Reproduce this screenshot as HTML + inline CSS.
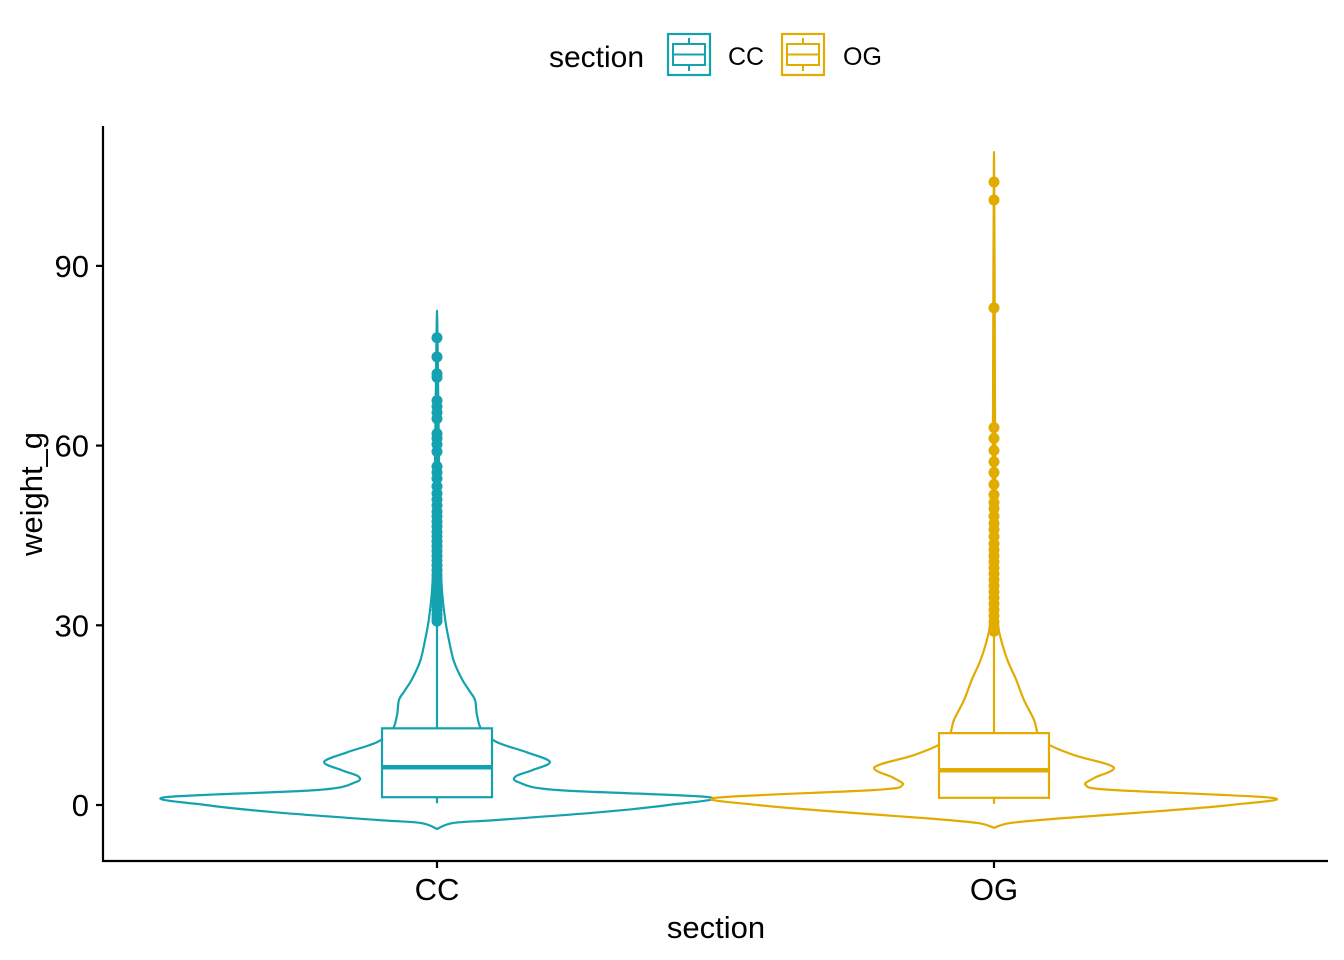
<!DOCTYPE html>
<html><head><meta charset="utf-8"><style>
body{margin:0;background:#fff;}
svg{display:block;font-family:"Liberation Sans",Arial,sans-serif;}
</style></head><body>
<svg id="chart" width="1344" height="960"></svg>
<script>
const categories=["CC","OG"];
const colors=["#14a2b0","#e2ab00"];
const yTicks=[0,30,60,90];
// violin profiles: value levels and relative density (1 = widest)
const ccVals=[-4,-3,-2.5,-1.2,0,1.3,2.5,3.8,4.8,5.8,7.2,8.8,10.5,12.5,15,17.5,19,21,24,27.5,31,36,44,59,70,78,82];
const ccDens=[0,0.06,0.22,0.6,0.85,1,0.44,0.3,0.29,0.35,0.415,0.33,0.22,0.165,0.147,0.14,0.12,0.092,0.062,0.044,0.03,0.018,0.011,0.007,0.004,0.002,0];
const ogVals=[-3.8,-3,-2.3,-1,0,1.2,2.5,3.3,4.5,6.3,8.3,10,11.7,14.2,17.5,21,24,27.5,31,41,60,75,90,100,108];
const ogDens=[0,0.06,0.22,0.6,0.85,1,0.43,0.33,0.36,0.43,0.29,0.2,0.16,0.144,0.108,0.079,0.05,0.026,0.013,0.007,0.004,0.003,0.002,0.001,0];
const boxQ1=[1.3,1.2], boxMed=[6.3,5.8], boxQ3=[12.8,12], whiskLo=[0.3,0.2], whiskHi=[30.5,28.5];
const ccOut=[78,74.8,72,71.4,67.5,66.5,65.5,64.5,62,61.2,60.2,59,56.5,55.5,54.5,53.2,52,51,50,49,48.2,47.3,46.5,45.6,44.8,44,43.2,42.4,41.6,40.8,40,39.2,38.4,37.6,36.8,36,35.3,34.6,33.9,33.2,32.5,31.8,31.2,30.7];
const ogOut=[104,101,83,63,61.2,59.2,57.3,55.5,53.5,51.8,50.5,49.5,48.2,47,46,44.8,43.6,42.6,41.6,40.6,39.6,38.6,37.6,36.6,35.6,34.6,33.6,32.6,31.6,30.6,29.8,29];
const profiles=[[ccVals,ccDens],[ogVals,ogDens]];
const outliers=[ccOut,ogOut];
const maxHalf=[272,278];

const NS="http://www.w3.org/2000/svg";
const svg=document.getElementById("chart");
const xPos=i=>437+i*557;
const yPos=v=>805-v*5.99;
function mk(tag,attrs,parent){const e=document.createElementNS(NS,tag);for(const k in attrs)e.setAttribute(k,attrs[k]);(parent||svg).appendChild(e);return e;}

// axes
let ax=mk("line",{x1:103,y1:126,x2:103,y2:862,stroke:"#000","stroke-width":2.2});


ax=mk("line",{x1:102,y1:861,x2:1328,y2:861,stroke:"#000","stroke-width":2.2});


yTicks.forEach(t=>{
  const tk=mk("line",{x1:96,x2:103,y1:yPos(t),y2:yPos(t),stroke:"#000","stroke-width":2.2});
  
  
  const tl=mk("text",{x:89,y:yPos(t)+11,"text-anchor":"end","font-size":31,fill:"#000"});
  tl.textContent=t;
  
  
});
categories.forEach((c,i)=>{
  const tk=mk("line",{x1:xPos(i),x2:xPos(i),y1:861,y2:868,stroke:"#000","stroke-width":2.2});
  
  
  const tl=mk("text",{x:xPos(i),y:900,"text-anchor":"middle","font-size":31,fill:"#000"});
  tl.textContent=c;
  
  
});
let t=mk("text",{x:716,y:938,"text-anchor":"middle","font-size":31,fill:"#000"});
t.textContent="section";


t=mk("text",{x:0,y:0,"text-anchor":"middle","font-size":31,fill:"#000",transform:"translate(42,494) rotate(-90)"});
t.textContent="weight_g";



// violins + boxes
categories.forEach((c,i)=>{
  const [vals,dens]=profiles[i];const cx=xPos(i),col=colors[i];
  let right=[],left=[];
  vals.forEach((v,k)=>{right.push([cx+dens[k]*maxHalf[i],yPos(v)]);left.push([cx-dens[k]*maxHalf[i],yPos(v)]);});
  const pts=right.concat(left.reverse());
  let d="M"+pts[0][0]+","+pts[0][1];
  for(let k=0;k<pts.length-1;k++){
    const p0=pts[Math.max(0,k-1)],p1=pts[k],p2=pts[k+1],p3=pts[Math.min(pts.length-1,k+2)];
    d+=" C"+(p1[0]+(p2[0]-p0[0])/6)+","+(p1[1]+(p2[1]-p0[1])/6)+" "+(p2[0]-(p3[0]-p1[0])/6)+","+(p2[1]-(p3[1]-p1[1])/6)+" "+p2[0]+","+p2[1];
  }
  d+="Z";
  const vp=mk("path",{d:d,fill:"none",stroke:col,"stroke-width":2.2});
  
  
  const topV=vals[vals.length-1];
  const wl=mk("line",{x1:cx,x2:cx,y1:yPos(topV),y2:yPos(whiskLo[i]),stroke:col,"stroke-width":2.2});
  
  
  const bx=mk("rect",{x:cx-55,width:110,y:yPos(boxQ3[i]),height:yPos(boxQ1[i])-yPos(boxQ3[i]),fill:"#fff",stroke:col,"stroke-width":2.2});
  
  
  const md=mk("line",{x1:cx-55,x2:cx+55,y1:yPos(boxMed[i]),y2:yPos(boxMed[i]),stroke:col,"stroke-width":4.5});
  
  
  outliers[i].forEach(v=>{
    const p=mk("circle",{cx:cx,cy:yPos(v),r:5.5,fill:col});
    
    
  });
});

// legend
const lg=mk("g",{});


t=mk("text",{x:549,y:67,"font-size":30,fill:"#000"},lg);
t.textContent="section";


[[668,"CC",728],[782,"OG",843]].forEach((L,i)=>{
  const g=mk("g",{},lg);
  
  
  const x=L[0],col=colors[i];
  mk("rect",{x:x,y:34,width:42,height:41,fill:"none",stroke:col,"stroke-width":2.2},g);
  mk("line",{x1:x+21,x2:x+21,y1:38,y2:71,stroke:col,"stroke-width":2},g);
  mk("rect",{x:x+5,y:44,width:32,height:21,fill:"#fff",stroke:col,"stroke-width":2},g);
  mk("line",{x1:x+5,x2:x+37,y1:54.5,y2:54.5,stroke:col,"stroke-width":2},g);
  const tx=mk("text",{x:L[2],y:65,"font-size":25,fill:"#000"},g);
  tx.textContent=L[1];
});
</script>
</body></html>
